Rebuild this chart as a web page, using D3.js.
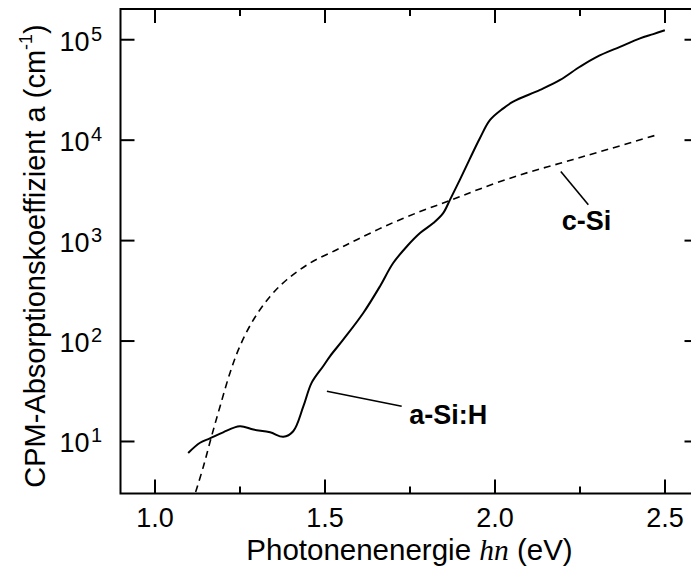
<!DOCTYPE html>
<meta charset="utf-8">
<style>
body { margin: 0; background: #fff; }
text { font-family: "Liberation Sans", Arial, Helvetica, sans-serif; fill: #000; }
.axis path { display: none; }
.axis line { stroke: #000; stroke-width: 2; }
</style>
<body>
<script src="https://cdn.jsdelivr.net/npm/d3@7"></script>
<script>

// a-Si:H, CPM absorption (solid line)
var aSiEnergy = [1.099, 1.134, 1.163, 1.202, 1.251, 1.291, 1.340, 1.379, 1.408, 1.438,
                 1.462, 1.496, 1.516, 1.555, 1.614, 1.663, 1.702, 1.742, 1.781, 1.820,
                 1.849, 1.869, 1.898, 1.927, 1.957, 1.987, 2.026, 2.055, 2.134, 2.193,
                 2.251, 2.301, 2.369, 2.428, 2.467, 2.501];
var aSiAlpha  = [7.6, 9.6, 10.6, 12.2, 14.0, 13.0, 12.2, 11.0, 12.5, 22.2,
                 37.9, 55.5, 69.7, 102, 188, 346, 591, 864, 1175, 1477,
                 1855, 2518, 3981, 6400, 10330, 15700, 20500, 23900, 31300, 39300,
                 53200, 66800, 84000, 101900, 112500, 123000];

// c-Si (dashed line)
var cSiEnergy = [1.121, 1.144, 1.168, 1.193, 1.222, 1.251, 1.291, 1.340, 1.389, 1.457,
                 1.536, 1.595, 1.683, 1.781, 1.869, 1.957, 2.075, 2.193, 2.311, 2.477];
var cSiAlpha  = [3.1, 5.6, 11.2, 22.2, 47.6, 87.6, 161, 275, 403, 590,
                 802, 1009, 1400, 1924, 2477, 3236, 4456, 5823, 7600, 11150];

// annotations (in data units)
var labelText   = ["a-Si:H", "c-Si"];
var labelAt     = [[1.749, 14.6], [2.198, 1265]];
var pointerFrom = [[1.507, 31.3], [2.195, 4810]];
var pointerTo   = [[1.727, 22.2], [2.276, 2244]];

var xMajor = [1.0, 1.5, 2.0, 2.5],
    xMinor = [1.25, 1.75, 2.25],
    yTicks = [10, 100, 1000, 10000, 100000],
    yExp   = ["1", "2", "3", "4", "5"];

var width = 691, height = 568;
var pLeft = 120.5, pRight = 698.5, pTop = 9, pBottom = 493.5;

var x = d3.scaleLinear().domain([0.9, 2.6]).range([pLeft, pRight]);
var y = d3.scaleLog().domain([3, 2e5]).range([pBottom, pTop]);

var svg = d3.select("body").append("svg")
    .attr("width", width)
    .attr("height", height);

// frame
svg.append("rect")
    .attr("x", pLeft).attr("y", pTop)
    .attr("width", pRight - pLeft).attr("height", pBottom - pTop)
    .attr("fill", "none").attr("stroke", "#000").attr("stroke-width", 2);

// x axes
svg.append("g").attr("class", "axis")
    .attr("transform", "translate(0," + pBottom + ")")
    .call(d3.axisBottom(x).tickValues(xMajor).tickSize(-14).tickPadding(14)
      .tickFormat(d3.format(".1f")))
    .selectAll("text").style("font-size", "27px");
svg.append("g").attr("class", "axis")
    .attr("transform", "translate(0," + pBottom + ")")
    .call(d3.axisBottom(x).tickValues(xMinor).tickSize(-7).tickFormat(""));
svg.append("g").attr("class", "axis")
    .attr("transform", "translate(0," + pTop + ")")
    .call(d3.axisTop(x).tickValues(xMajor).tickSize(-14).tickFormat(""));
svg.append("g").attr("class", "axis")
    .attr("transform", "translate(0," + pTop + ")")
    .call(d3.axisTop(x).tickValues(xMinor).tickSize(-7).tickFormat(""));

// y axes
var yl = svg.append("g").attr("class", "axis")
    .attr("transform", "translate(" + pLeft + ",0)")
    .call(d3.axisLeft(y).tickValues(yTicks).tickSize(-14).tickFormat(""));
svg.append("g").attr("class", "axis")
    .attr("transform", "translate(" + pRight + ",0)")
    .call(d3.axisRight(y).tickValues(yTicks).tickSize(-14).tickFormat(""));

yl.selectAll(".tick").each(function(d, i) {
  var t = d3.select(this);
  t.append("text")
    .attr("x", -31).attr("y", 11)
    .attr("text-anchor", "end")
    .style("font-size", "27px")
    .text("10");
  t.append("text")
    .attr("x", -29.5).attr("y", 1)
    .attr("text-anchor", "start")
    .style("font-size", "20px")
    .text(yExp[i]);
});

// curves
var line = d3.line()
    .x(function(d) { return x(d[0]); })
    .y(function(d) { return y(d[1]); })
    .curve(d3.curveCatmullRom.alpha(0.5));

svg.append("path")
    .datum(d3.zip(cSiEnergy, cSiAlpha))
    .attr("d", line)
    .attr("fill", "none").attr("stroke", "#000")
    .attr("stroke-width", 1.6).attr("stroke-dasharray", "7,5");

svg.append("path")
    .datum(d3.zip(aSiEnergy, aSiAlpha))
    .attr("d", line)
    .attr("fill", "none").attr("stroke", "#000")
    .attr("stroke-width", 2);

// annotations
svg.selectAll(".pointer")
    .data(d3.range(labelText.length))
    .enter().append("line")
    .attr("class", "pointer")
    .attr("x1", function(i) { return x(pointerFrom[i][0]); })
    .attr("y1", function(i) { return y(pointerFrom[i][1]); })
    .attr("x2", function(i) { return x(pointerTo[i][0]); })
    .attr("y2", function(i) { return y(pointerTo[i][1]); })
    .attr("stroke", "#000").attr("stroke-width", 1.6);

svg.selectAll(".label")
    .data(d3.range(labelText.length))
    .enter().append("text")
    .attr("class", "label")
    .attr("x", function(i) { return x(labelAt[i][0]); })
    .attr("y", function(i) { return y(labelAt[i][1]); })
    .style("font-size", "27px").style("font-weight", "bold")
    .text(function(i) { return labelText[i]; });

// axis titles
var xt = svg.append("text")
    .attr("x", 409.5).attr("y", 560)
    .attr("text-anchor", "middle")
    .style("font-size", "29.5px");
xt.append("tspan").text("Photonenenergie ");
xt.append("tspan")
    .style("font-family", "'Liberation Serif', 'Times New Roman', serif")
    .style("font-style", "italic")
    .text("hn");
xt.append("tspan").text(" (eV)");

var yt = svg.append("text")
    .attr("transform", "translate(45,256) rotate(-90)")
    .attr("text-anchor", "middle")
    .style("font-size", "29px");
yt.append("tspan").text("CPM-Absorptionskoeffizient a (cm");
yt.append("tspan").attr("dy", "-0.7em").style("font-size", "18px").text("-1");
yt.append("tspan").attr("dy", "0.43em").text(")");

</script>
